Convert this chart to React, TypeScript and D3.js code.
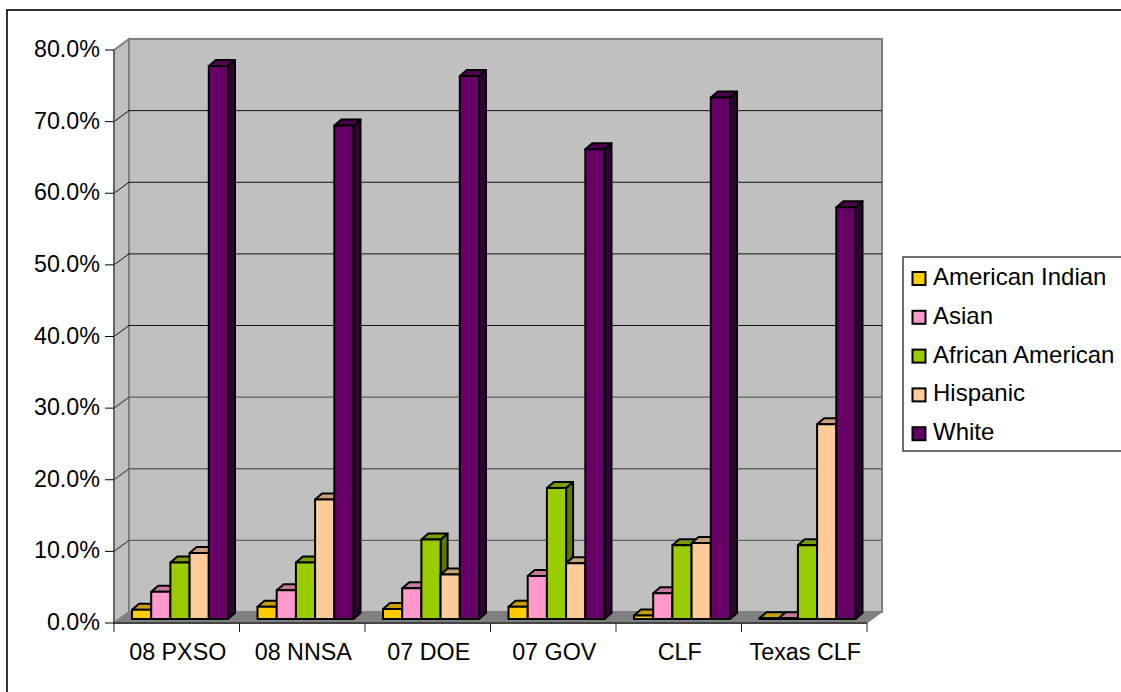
import React from 'react';
import * as d3 from 'd3';

const categories = ['08 PXSO', '08 NNSA', '07 DOE', '07 GOV', 'CLF', 'Texas CLF'];
const seriesNames = ['American Indian', 'Asian', 'African American', 'Hispanic', 'White'];
const americanIndian = [1.3, 1.7, 1.4, 1.7, 0.5, 0.1];
const asian = [3.8, 4.0, 4.3, 6.0, 3.6, 0.1];
const africanAmerican = [7.9, 7.9, 11.1, 18.3, 10.3, 10.3];
const hispanic = [9.2, 16.7, 6.2, 7.8, 10.6, 27.2];
const white = [77.2, 68.9, 75.8, 65.6, 72.8, 57.5];
const seriesValues = [americanIndian, asian, africanAmerican, hispanic, white];
const colors = ['#ffcc00', '#ff99cc', '#99cc00', '#ffcc99', '#660066'];
const topColors = ['#c9a000', '#c978a0', '#789f00', '#c9a078', '#4f004f'];
const sideColors = ['#997a00', '#995c7a', '#5c7a00', '#997a5c', '#330033'];
const yTicks = [0, 10, 20, 30, 40, 50, 60, 70, 80];

const W = 1121;
const H = 692;
const font = '"Liberation Sans", Arial, sans-serif';

// 3d offset of the back wall, and of the bars on the floor
const depth = { x: 15, y: -11 };
const barShift = { x: 4, y: -4 };
const barDepth = { x: 7, y: -6 };

const x = d3.scaleBand().domain(categories).range([114, 867]);
const xBar = d3.scaleBand().domain(seriesNames).range([14, 110]);
const y = d3.scaleLinear().domain([0, 80]).range([623, 50]);

const poly = (pts: number[][]) => d3.line()(pts as [number, number][]) + 'Z';

export default function App() {
  const [x0, x1] = x.range();
  const y0 = y(0);
  const yTop = y(80);
  return (
    <svg width={W} height={H} style={{ position: 'absolute', left: 0, top: 0, background: '#fff' }} fontFamily={font}>
      <rect x={7} y={10} width={1130} height={700} fill="#fff" stroke="#111" strokeWidth={1.7} />

      {/* walls and floor */}
      <path d={poly([[x0 + depth.x, yTop + depth.y], [x1 + depth.x, yTop + depth.y], [x1 + depth.x, y0 + depth.y], [x0 + depth.x, y0 + depth.y]])} fill="#c0c0c0" stroke="#808080" strokeWidth={2} />
      <path d={poly([[x0, yTop], [x0 + depth.x, yTop + depth.y], [x0 + depth.x, y0 + depth.y], [x0, y0]])} fill="#c0c0c0" stroke="#808080" strokeWidth={2} />
      <path d={poly([[x0, y0], [x0 + depth.x, y0 + depth.y], [x1 + depth.x, y0 + depth.y], [x1, y0]])} fill="#808080" stroke="#808080" />

      {/* gridlines, the lower ones come out softer in the original */}
      {yTicks.slice(1, -1).map((t) => (
        <path
          key={t}
          d={d3.line()([[x0, y(t)], [x0 + depth.x, y(t) + depth.y], [x1 + depth.x, y(t) + depth.y]])!}
          fill="none"
          stroke={t <= 30 ? '#606060' : '#111'}
          strokeWidth={t <= 30 ? 1.4 : 1}
        />
      ))}

      {/* axes */}
      <line x1={x0} x2={x0} y1={yTop} y2={y0} stroke="#666" strokeWidth={2} />
      <line x1={x0} x2={x1} y1={y0} y2={y0} stroke="#444" strokeWidth={2} />
      {yTicks.map((t) => (
        <g key={t}>
          <line x1={x0 - 9} x2={x0} y1={y(t)} y2={y(t)} stroke="#000" />
          <text x={x0 - 14} y={y(t) + 7} textAnchor="end" fontSize={23.3} fill="#000">{d3.format('.1f')(t)}%</text>
        </g>
      ))}
      {[...categories.map((c) => x(c)!), x1].map((px) => (
        <line key={px} x1={px} x2={px} y1={y0} y2={y0 + 9} stroke="#222" />
      ))}
      {categories.map((c) => (
        <text key={c} x={x(c)! + x.bandwidth() / 2 + 1} y={659.5} textAnchor="middle" fontSize={23.3} fill="#000">{c}</text>
      ))}

      {/* bars, left to right so each covers the side of the previous one */}
      {categories.map((c, ci) => (
        <g key={c}>
          {seriesNames.map((s, si) => {
            const left = x(c)! + xBar(s)! + barShift.x;
            const right = left + xBar.bandwidth();
            const top = y(seriesValues[si][ci]) + barShift.y;
            const base = y0 + barShift.y;
            return (
              <g key={s} stroke="#000" strokeWidth={2} strokeLinejoin="round">
                <path d={poly([[right, top], [right + barDepth.x, top + barDepth.y], [right + barDepth.x, base + barDepth.y], [right, base]])} fill={sideColors[si]} />
                <path d={poly([[left, top], [left + barDepth.x, top + barDepth.y], [right + barDepth.x, top + barDepth.y], [right, top]])} fill={topColors[si]} />
                <rect x={left} y={top} width={xBar.bandwidth()} height={base - top} fill={colors[si]} />
              </g>
            );
          })}
        </g>
      ))}

      {/* legend */}
      <rect x={903} y={257} width={230} height={194} fill="#fff" stroke="#222" strokeWidth={1.3} />
      {seriesNames.map((s, i) => (
        <g key={s}>
          <rect x={912.5} y={272 + i * 38.8} width={13} height={13} fill={colors[i]} stroke="#000" strokeWidth={2} />
          <text x={933} y={285 + i * 38.8} fontSize={24} fill="#000">{s}</text>
        </g>
      ))}
    </svg>
  );
}
